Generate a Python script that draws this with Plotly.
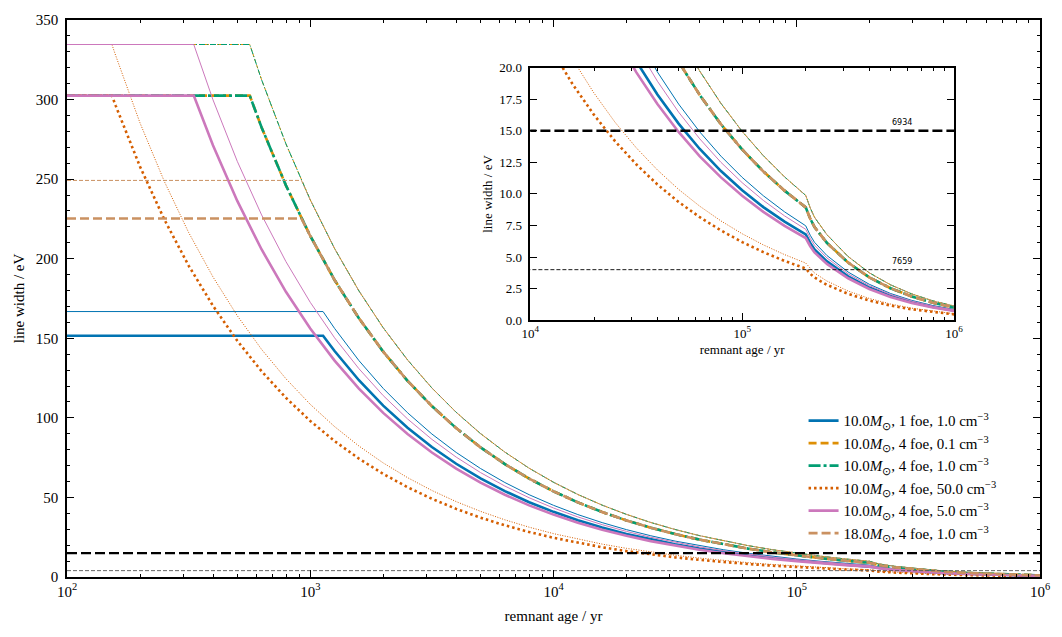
import plotly.graph_objects as go

# ---------------- data ----------------
AGE = [100, 125.9, 158.5, 199.5, 251.2, 316.2, 398.1, 501.2, 631.0, 794.3,
       1000, 1259, 1585, 1995, 2512, 3162, 3981, 5012, 6310, 7943,
       1.0e4, 1.259e4, 1.585e4, 1.995e4, 2.512e4, 3.162e4, 3.981e4, 5.012e4, 6.310e4, 7.943e4,
       1.0e5, 1.259e5, 1.585e5, 1.995e5, 2.095e5, 2.195e5, 2.512e5, 3.162e5, 3.981e5,
       5.012e5, 6.310e5, 7.943e5, 1.0e6]

LABELS = ["10.0<i>M</i><sub>⊙</sub>, 1 foe, 1.0 cm<sup>−3</sup>",
          "10.0<i>M</i><sub>⊙</sub>, 4 foe, 0.1 cm<sup>−3</sup>",
          "10.0<i>M</i><sub>⊙</sub>, 4 foe, 1.0 cm<sup>−3</sup>",
          "10.0<i>M</i><sub>⊙</sub>, 4 foe, 50.0 cm<sup>−3</sup>",
          "10.0<i>M</i><sub>⊙</sub>, 4 foe, 5.0 cm<sup>−3</sup>",
          "18.0<i>M</i><sub>⊙</sub>, 4 foe, 1.0 cm<sup>−3</sup>"]

# plateau value, end of plateau, then values at the AGE points after it
blue_plateau, blue_thin_plateau, blue_t0 = 151.6, 166.8, 1129
blue_decay = [141.97, 123.65, 107.69, 93.80, 81.69, 71.15, 61.97, 53.97, 47.01, 40.94,
              35.66, 31.06, 27.05, 23.56, 20.52, 17.87, 15.57, 13.56, 11.81, 10.29,
              8.957, 7.801, 6.795, 6.116, 5.606, 4.655, 3.465, 2.582, 1.923, 1.427, 1.053, 0.768]
blue_thin_decay = [156.2, 136.0, 118.5, 103.2, 89.86, 78.27, 68.17, 59.37, 51.71, 45.04,
                   39.23, 34.17, 29.76, 25.92, 22.57, 19.66, 17.12, 14.91, 12.99, 11.31,
                   9.853, 8.581, 7.475, 6.728, 6.167, 5.120, 3.812, 2.841, 2.115, 1.570, 1.159, 0.845]

green_plateau, green_thin_plateau, green_t0 = 302.5, 334.6, 564
green_decay = [282.5, 246.1, 214.3, 186.6, 162.6, 141.6, 123.3, 107.4, 93.55, 81.47,
               70.96, 61.80, 53.83, 46.88, 40.83, 35.57, 30.97, 26.98, 23.50, 20.47,
               17.83, 15.52, 13.52, 11.78, 10.26, 8.934, 8.04, 7.37, 6.12, 4.56,
               3.39, 2.53, 1.88, 1.38, 1.01]
green_thin_decay = [312.4, 272.2, 237.0, 206.4, 179.8, 156.6, 136.4, 118.8, 103.5, 90.11,
                    78.48, 68.35, 59.53, 51.85, 45.16, 39.34, 34.25, 29.84, 25.99, 22.64,
                    19.72, 17.17, 14.95, 13.03, 11.35, 9.881, 8.89, 8.15, 6.77, 5.04,
                    3.75, 2.80, 2.08, 1.53, 1.12]

orange_plateau, orange_thin_plateau, orange_t0 = 302.5, 334.6, 564
orange_decay = [282.5, 246.1, 214.3, 186.6, 162.6, 141.6, 123.3, 107.4, 93.55, 81.47,
                70.96, 61.80, 53.83, 46.88, 40.83, 35.57, 30.97, 26.98, 23.50, 20.47,
                17.83, 15.52, 13.52, 11.78, 10.26, 8.934, 8.04, 7.37, 6.12, 4.56,
                3.39, 2.53, 1.88, 1.38, 1.01]
orange_thin_decay = [312.4, 272.2, 237.0, 206.4, 179.8, 156.6, 136.4, 118.8, 103.5, 90.11,
                     78.48, 68.35, 59.53, 51.85, 45.16, 39.34, 34.25, 29.84, 25.99, 22.64,
                     19.72, 17.17, 14.95, 13.03, 11.35, 9.881, 8.89, 8.15, 6.77, 5.04,
                     3.75, 2.80, 2.08, 1.53, 1.12]

verm_plateau, verm_thin_plateau, verm_t0 = 302.5, 334.6, 153
verm_decay = [296.2, 257.95, 224.67, 195.68, 170.43, 148.44, 129.29, 112.60, 98.07, 85.42,
              74.39, 64.79, 56.43, 49.15, 42.81, 37.29, 32.47, 28.28, 24.63, 21.46,
              18.69, 16.28, 14.18, 12.35, 10.75, 9.366, 8.157, 7.104, 6.188, 5.389,
              4.694, 4.089, 3.680, 3.373, 2.801, 2.085, 1.554, 1.157, 0.859, 0.634, 0.462]
verm_thin_decay = [327.7, 285.4, 248.6, 216.5, 188.6, 164.2, 143.0, 124.6, 108.5, 94.50,
                   82.31, 71.68, 62.44, 54.38, 47.36, 41.25, 35.93, 31.29, 27.25, 23.74,
                   20.67, 18.01, 15.68, 13.66, 11.90, 10.36, 9.025, 7.860, 6.846, 5.962,
                   5.193, 4.523, 4.071, 3.731, 3.098, 2.307, 1.719, 1.280, 0.950, 0.701, 0.511]

pink_plateau, pink_thin_plateau, pink_t0 = 302.5, 334.6, 332
pink_decay = [271.3, 236.3, 205.8, 179.2, 156.1, 135.96, 118.41, 103.13, 89.83, 78.24,
              68.14, 59.35, 51.69, 45.02, 39.21, 34.15, 29.74, 25.91, 22.56, 19.65,
              17.12, 14.91, 12.98, 11.31, 9.850, 8.578, 7.471, 6.508,
              5.857, 5.369, 4.458, 3.319, 2.473, 1.842, 1.367, 1.009, 0.735]
pink_thin_decay = [299.9, 261.2, 227.5, 198.2, 172.6, 150.3, 130.9, 114.0, 99.32, 86.51,
                   75.34, 65.62, 57.15, 49.78, 43.36, 37.76, 32.89, 28.64, 24.95, 21.73,
                   18.93, 16.48, 14.36, 12.50, 10.89, 9.484, 8.261, 7.196,
                   6.476, 5.937, 4.929, 3.670, 2.734, 2.036, 1.511, 1.115, 0.813]

tan_plateau, tan_thin_plateau, tan_t0 = 225.3, 249.2, 920
tan_decay = [214.3, 186.6, 162.6, 141.6, 123.3, 107.4, 93.55, 81.47,
             70.96, 61.80, 53.83, 46.88, 40.83, 35.57, 30.97, 26.98, 23.50, 20.47,
             17.83, 15.52, 13.52, 11.78, 10.26, 8.934, 8.04, 7.37, 6.12, 4.56,
             3.39, 2.53, 1.88, 1.38, 1.01]
tan_thin_decay = [237.0, 206.4, 179.8, 156.6, 136.4, 118.8, 103.5, 90.11,
                  78.48, 68.35, 59.53, 51.85, 45.16, 39.34, 34.25, 29.84, 25.99, 22.64,
                  19.72, 17.17, 14.95, 13.03, 11.35, 9.881, 8.89, 8.15, 6.77, 5.04,
                  3.75, 2.80, 2.08, 1.53, 1.12]

LINE_A, LINE_B = 15.0, 4.0           # reference line widths (eV)
LINE_A_LABEL, LINE_B_LABEL = "6934", "7659"

# ---------------- styling ----------------
SERIF = "Liberation Serif"
C = ["#0173B2", "#DE8F05", "#029E73", "#D55E00", "#CC78BC", "#CA9161"]

models = [
    (blue_plateau, blue_thin_plateau, blue_t0, blue_decay, blue_thin_decay, C[0], "solid", "solid"),
    (orange_plateau, orange_thin_plateau, orange_t0, orange_decay, orange_thin_decay, C[1], "8px,4px", "4px,2px"),
    (green_plateau, green_thin_plateau, green_t0, green_decay, green_thin_decay, C[2], "12px,3px,3px,3px", "6px,2px,1px,2px"),
    (verm_plateau, verm_thin_plateau, verm_t0, verm_decay, verm_thin_decay, C[3], "2.5px,3px", "1px,1.5px"),
    (pink_plateau, pink_thin_plateau, pink_t0, pink_decay, pink_thin_decay, C[4], "solid", "solid"),
    (tan_plateau, tan_thin_plateau, tan_t0, tan_decay, tan_thin_decay, C[5], "9px,4px", "4px,2px"),
]

fig = go.Figure()

for i, (p, pt, t0, dec, dect, col, dash, dasht) in enumerate(models):
    after = [a for a in AGE if a > t0]
    xs = [AGE[0], t0] + after
    ys = [p, p] + dec
    yst = [pt, pt] + dect
    for ax, ay, show in (("x", "y", True), ("x2", "y2", False)):
        fig.add_trace(go.Scatter(x=xs, y=ys, mode="lines", name=LABELS[i],
                                 line=dict(color=col, width=2.6, dash=dash),
                                 xaxis=ax, yaxis=ay, showlegend=show, legendrank=i + 1))
        fig.add_trace(go.Scatter(x=xs, y=yst, mode="lines", name=LABELS[i] + " (thin)",
                                 line=dict(color=col, width=1.0, dash=dasht),
                                 xaxis=ax, yaxis=ay, showlegend=False))

# horizontal reference lines
for ax, ay, colB in (("x", "y", "#555555"), ("x2", "y2", "black")):
    fig.add_trace(go.Scatter(x=[AGE[0], AGE[-1]], y=[LINE_A, LINE_A], mode="lines",
                             line=dict(color="black", width=2.4, dash="10px,4px"),
                             xaxis=ax, yaxis=ay, showlegend=False, hoverinfo="skip"))
    fig.add_trace(go.Scatter(x=[AGE[0], AGE[-1]], y=[LINE_B, LINE_B], mode="lines",
                             line=dict(color=colB, width=0.9, dash="4px,2px"),
                             xaxis=ax, yaxis=ay, showlegend=False, hoverinfo="skip"))

fig.add_annotation(x=5.7526, y=LINE_A, xref="x2", yref="y2", text=LINE_A_LABEL,
                   showarrow=False, yanchor="bottom", yshift=2,
                   font=dict(family="DejaVu Sans", size=8, color="black"))
fig.add_annotation(x=5.7526, y=LINE_B, xref="x2", yref="y2", text=LINE_B_LABEL,
                   showarrow=False, yanchor="bottom", yshift=2,
                   font=dict(family="DejaVu Sans", size=8, color="black"))

def minor_vals(lo, hi):
    out = []
    for e in range(lo, hi):
        for m in range(2, 10):
            out.append(m * 10 ** e)
    return out

axis_common = dict(showline=True, mirror="allticks", linecolor="black", linewidth=1.5,
                   ticks="inside", tickcolor="black", showgrid=False, zeroline=False)

fig.update_layout(
    width=1062, height=637,
    margin=dict(l=67, r=21, t=16, b=60),
    paper_bgcolor="white", plot_bgcolor="white",
    font=dict(family=SERIF, color="black"),
    xaxis=dict(type="log", range=[2, 6], domain=[0, 1], anchor="y",
               tickmode="array", tickvals=[1e2, 1e3, 1e4, 1e5, 1e6],
               ticktext=["10<sup>2</sup>", "10<sup>3</sup>", "10<sup>4</sup>",
                         "10<sup>5</sup>", "10<sup>6</sup>"],
               ticklen=7, tickwidth=1.2, tickfont=dict(family=SERIF, size=15),
               minor=dict(tickmode="array", tickvals=minor_vals(2, 6), ticks="inside",
                          ticklen=3.5, tickwidth=0.8, tickcolor="black", showgrid=False),
               title=dict(text="remnant age / yr", font=dict(family=SERIF, size=15), standoff=12),
               **axis_common),
    yaxis=dict(range=[0, 350], domain=[0, 1], anchor="x", dtick=50, tick0=0,
               ticklen=7, tickwidth=1.2, tickfont=dict(family=SERIF, size=15),
               ticklabelstandoff=4,
               minor=dict(dtick=10, ticks="inside", ticklen=3.5, tickwidth=0.8,
                          tickcolor="black", showgrid=False),
               title=dict(text="line width / eV", font=dict(family=SERIF, size=15), standoff=8),
               **axis_common),
    xaxis2=dict(type="log", range=[4, 6], domain=[0.4761, 0.9117], anchor="y2",
                tickmode="array", tickvals=[1e4, 1e5, 1e6],
                ticktext=["10<sup>4</sup>", "10<sup>5</sup>", "10<sup>6</sup>"],
                ticklen=7, tickwidth=1.2, tickfont=dict(family=SERIF, size=13),
                minor=dict(tickmode="array", tickvals=minor_vals(4, 6), ticks="inside",
                           ticklen=3.5, tickwidth=0.8, tickcolor="black", showgrid=False),
                title=dict(text="remnant age / yr", font=dict(family=SERIF, size=13), standoff=5),
                **axis_common),
    yaxis2=dict(range=[0, 20], domain=[0.4611, 0.9144], anchor="x2", dtick=2.5, tick0=0,
                tickformat=".1f", ticklen=7, tickwidth=1.2,
                tickfont=dict(family=SERIF, size=13), ticklabelstandoff=4,
                title=dict(text="line width / eV", font=dict(family=SERIF, size=13), standoff=4),
                **axis_common),
    legend=dict(x=0.757, y=0.31, xanchor="left", yanchor="top",
                bgcolor="rgba(255,255,255,0)", borderwidth=0,
                font=dict(family=SERIF, size=15), tracegroupgap=0),
)

fig.write_html("out.html")
